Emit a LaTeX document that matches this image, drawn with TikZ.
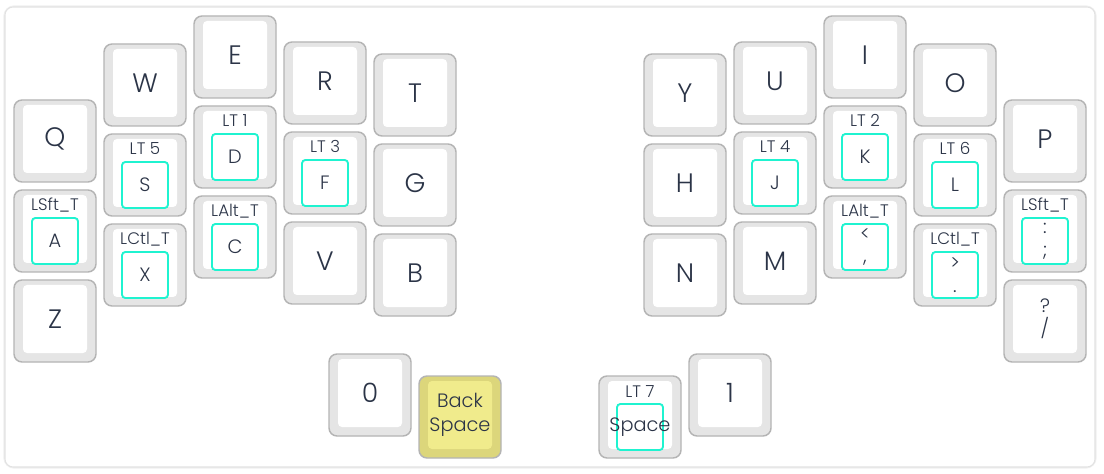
\documentclass[tikz,border=0pt]{standalone}
\usepackage{fontspec}
\setmainfont{Poppins}[UprightFont=* Light]
\usepackage{tikz}

\definecolor{keyFill}{HTML}{E5E5E5}
\definecolor{keyEdge}{HTML}{B4B4B4}
\definecolor{keyText}{HTML}{2B3447}
\definecolor{holdTeal}{HTML}{1FF3D0}
\definecolor{bkOuter}{HTML}{DCD67B}
\definecolor{bkInner}{HTML}{F0EB8C}
\definecolor{cardEdge}{HTML}{E2E2E2}

\begin{document}
\begin{tikzpicture}[x=0.75pt,y=-0.75pt]
  \tikzstyle{keyCap} = [draw=keyEdge, fill=keyFill, line width=1.1pt, rectangle, rounded corners=6pt, minimum width=61.5pt, minimum height=61.5pt, inner sep=0pt]
  \tikzstyle{keyFace} = [fill=white, rectangle, rounded corners=3pt, minimum width=48pt, minimum height=51pt, inner sep=0pt, text=keyText, align=center, font={\fontsize{20}{22}\selectfont}]
  \tikzstyle{holdBox} = [draw=holdTeal, line width=1.4pt, rectangle, rounded corners=2.5pt, minimum width=34.5pt, minimum height=34.5pt, inner sep=0pt]
  \tikzstyle{holdLabel} = [text=keyText, inner sep=0pt, anchor=base, font={\fontsize{12.5}{13}\selectfont}]
  \tikzstyle{tapText} = [text=keyText, inner sep=0pt, align=center, font={\fontsize{14.5}{17}\selectfont}]
  \tikzstyle{twoLine} = [font={\fontsize{14.5}{17.5}\selectfont}]

  % card
  \useasboundingbox (0,0) rectangle (1104,474);
  \fill[white] (0,0) rectangle (1104,474);
  \draw[black!6, line width=2.5pt, rounded corners=7pt] (5,7) rectangle (1095,467);
  \draw[cardEdge, fill=white, line width=0.8pt, rounded corners=6pt] (5,7) rectangle (1095,467);

  % plain keys
  \foreach \name/\x/\y/\lbl in {q/55/141/Q, w/145/85/W, e/235/57/E, r/325/83/R, t/415/95/T,
      g/415/185/G, z/55/321/Z, v/325/263/V, b/415/275/B, zero/370/395/0,
      y/685/95/Y, u/775/83/U, i/865/57/I, o/955/85/O, p/1045/141/P,
      h/685/185/H, n/685/275/N, m/775/263/M, one/730/395/1}
  {
    \node[keyCap] (\name) at (\x,\y) {};
    \node[keyFace] (\name-face) at (\x,\y-2) {\lbl};
  }

  \node[keyCap] (slash) at (1045,321) {};
  \node[keyFace, twoLine] (slash-face) at (1045,319) {?\\/};

  % hold-tap keys
  \foreach \name/\x/\y/\hold/\tap in {a/55/231/LSft\_T/A, s/145/175/LT 5/S, x/145/265/LCtl\_T/X,
      d/235/147/LT 1/D, c/235/237/LAlt\_T/C, f/325/173/LT 3/F,
      j/775/173/LT 4/J, k/865/147/LT 2/K, l/955/175/LT 6/L,
      comma/865/237/LAlt\_T/{<\\,}, dot/955/265/LCtl\_T/{>\\.}, semi/1045/231/LSft\_T/{:\\;},
      space/640/417/LT 7/Space}
  {
    \node[keyCap] (\name) at (\x,\y) {};
    \node[keyFace] (\name-face) at (\x,\y-2) {};
    \node[holdLabel] (\name-hold) at (\x,\y-20) {\hold};
    \node[holdBox] (\name-box) at (\x,\y+10) {};
    \node[tapText] (\name-tap) at (\name-box.center) {\tap};
  }

  % backspace
  \node[keyCap, fill=bkOuter] (bksp) at (460,417) {};
  \node[keyFace, twoLine, fill=bkInner] (bksp-face) at (460,415) {Back\\Space};

\end{tikzpicture}
\end{document}
